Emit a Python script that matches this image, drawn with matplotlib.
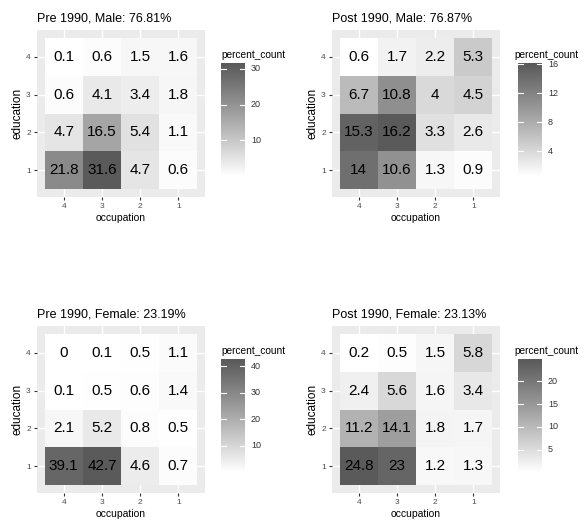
import matplotlib
matplotlib.use("Agg")
import matplotlib.pyplot as plt
import numpy as np
from matplotlib.colors import ListedColormap

plt.rcParams['font.family'] = ['Liberation Sans', 'DejaVu Sans']

occupation = ["4", "3", "2", "1"]
education = ["1", "2", "3", "4"]

titles = ["Pre 1990, Male: 76.81%", "Post 1990, Male: 76.87%",
          "Pre 1990, Female: 23.19%", "Post 1990, Female: 23.13%"]

# rows = education 1..4, columns = occupation 4,3,2,1
pre_male = [[21.8, 31.6, 4.7, 0.6],
            [4.7, 16.5, 5.4, 1.1],
            [0.6, 4.1, 3.4, 1.8],
            [0.1, 0.6, 1.5, 1.6]]
post_male = [[14, 10.6, 1.3, 0.9],
             [15.3, 16.2, 3.3, 2.6],
             [6.7, 10.8, 4, 4.5],
             [0.6, 1.7, 2.2, 5.3]]
pre_female = [[39.1, 42.7, 4.6, 0.7],
              [2.1, 5.2, 0.8, 0.5],
              [0.1, 0.5, 0.6, 1.4],
              [0, 0.1, 0.5, 1.1]]
post_female = [[24.8, 23, 1.2, 1.3],
               [11.2, 14.1, 1.8, 1.7],
               [2.4, 5.6, 1.6, 3.4],
               [0.2, 0.5, 1.5, 5.8]]

legend_ticks = [[10, 20, 30], [4, 8, 12, 16], [10, 20, 30, 40], [5, 10, 15, 20]]


def lab_grey_cmap(high=0x5a / 255.0, n=256):
    # interpolate lightness like ggplot's Lab gradient
    def to_L(v):
        lin = ((v + 0.055) / 1.055) ** 2.4 if v > 0.04045 else v / 12.92
        return 116 * lin ** (1 / 3) - 16 if lin > 0.008856 else 903.3 * lin

    def from_L(L):
        y = ((L + 16) / 116) ** 3 if L > 8 else L / 903.3
        return 1.055 * y ** (1 / 2.4) - 0.055 if y > 0.0031308 else 12.92 * y
    Ls = np.linspace(100, to_L(high), n)
    g = np.array([from_L(L) for L in Ls])
    return ListedColormap(np.column_stack([g, g, g]))


cmap = lab_grey_cmap()

W, H = 586, 520
fig = plt.figure(figsize=(W / 100, H / 100), dpi=100)

panel_pos = [(37, 30), (332, 30), (37, 326), (332, 326)]
bar_pos = [(221, 63), (518, 63), (221, 359), (518, 359)]
pw, ph = 168, 167
bw, bh = 24, 113

datasets = [pre_male, post_male, pre_female, post_female]

for k, data in enumerate(datasets):
    z = np.array(data, dtype=float)
    vmin, vmax = z.min(), z.max()
    px, py = panel_pos[k]
    ax = fig.add_axes([px / W, 1 - (py + ph) / H, pw / W, ph / H])
    ax.set_facecolor("#EBEBEB")
    for s in ax.spines.values():
        s.set_visible(False)
    xs = np.arange(1, 5)
    for v in xs:
        ax.axvline(v, color="white", lw=1.0, zorder=0)
        ax.axhline(v, color="white", lw=1.0, zorder=0)
    edges = np.arange(0.5, 5.0, 1.0)
    ax.pcolormesh(edges, edges, z, cmap=cmap, vmin=vmin, vmax=vmax, zorder=1)
    for i in range(4):
        for j in range(4):
            ax.text(xs[j], xs[i], "%g" % z[i, j], ha="center", va="center",
                    fontsize=11, color="black", zorder=2)
    ax.set_xlim(0.3, 4.7)
    ax.set_ylim(0.3, 4.7)
    ax.set_xticks(xs)
    ax.set_xticklabels(occupation)
    ax.set_yticks(xs)
    ax.set_yticklabels(education)
    ax.tick_params(length=2.5, width=0.8, color="#333333", labelcolor="#4D4D4D",
                   labelsize=6, pad=2)
    ax.set_xlabel("occupation", fontsize=7.5, labelpad=2)
    ax.set_ylabel("education", fontsize=8.5, labelpad=2)
    ax.set_title(titles[k], loc="left", fontsize=9, pad=6)

    bx, by = bar_pos[k]
    cax = fig.add_axes([bx / W, 1 - (by + bh) / H, bw / W, bh / H])
    grad = np.linspace(vmin, vmax, 200).reshape(-1, 1)
    cax.imshow(grad, cmap=cmap, vmin=vmin, vmax=vmax, aspect="auto",
               origin="lower", extent=(0, 1, vmin, vmax))
    cax.set_xlim(0, 1)
    cax.set_ylim(vmin, vmax)
    cax.set_xticks([])
    cax.set_yticks([])
    for s in cax.spines.values():
        s.set_visible(False)
    for t in legend_ticks[k]:
        cax.plot([0, 0.2], [t, t], color="white", lw=0.8)
        cax.plot([0.8, 1.0], [t, t], color="white", lw=0.8)
        cax.text(1.25, t, str(t), ha="left", va="center", fontsize=6.5,
                 color="#333333")
    # right-hand legends sit against the figure edge
    tx = (bx - 4) / W if k % 2 else bx / W
    fig.text(tx, 1 - (by - 3) / H, "percent_count", ha="left", va="bottom",
             fontsize=7.3, color="black")

fig.savefig("out.png", dpi=100)
